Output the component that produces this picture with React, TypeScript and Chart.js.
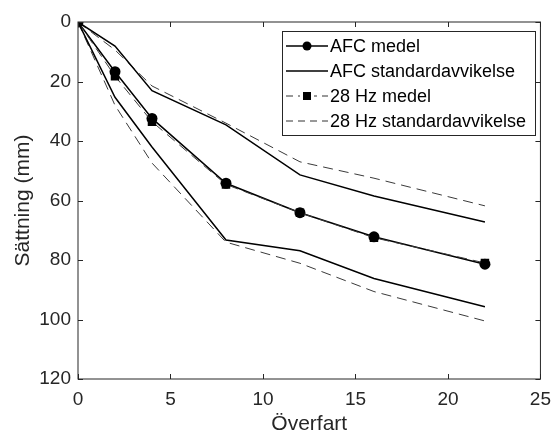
import React, { useEffect, useRef } from "react";
import { Chart, registerables } from "chart.js";

Chart.register(...registerables);

const overfart = [0, 2, 4, 8, 12, 16, 22];
const afcMedel = [0, 16.7, 32.4, 54.2, 64.1, 72.2, 81.4];
const afcStdUpper = [0, 8.1, 23.1, 34.6, 51.4, 58.5, 67.2];
const afcStdLower = [0, 25.3, 42, 73.3, 76.9, 86.2, 95.7];
const hzMedel = [0, 18.2, 33.5, 54.6, 64.1, 72.5, 81];
const hzStdUpper = [0, 9.4, 21.5, 34, 47, 52.5, 61.8];
const hzStdLower = [0, 28, 47.4, 74, 81.1, 90.6, 100.5];

const xTicks = [0, 5, 10, 15, 20, 25];
const yTicks = [0, 20, 40, 60, 80, 100, 120];

const legendLabels = [
  "AFC medel",
  "AFC standardavvikelse",
  "28 Hz medel",
  "28 Hz standardavvikelse",
];

const FONT = "'Liberation Sans', Arial, Helvetica, sans-serif";
const AXIS_COLOR = "#262626";

const toPts = (ys: number[]) => overfart.map((x, i) => ({ x, y: ys[i] }));

const framePlugin = {
  id: "frame",
  afterDraw(chart: any) {
    const { ctx, chartArea, scales } = chart;
    const { left, right, top, bottom } = chartArea;
    ctx.save();
    ctx.strokeStyle = AXIS_COLOR;
    ctx.lineWidth = 1;
    ctx.strokeRect(left, top, right - left, bottom - top);
    const tl = 5;
    ctx.beginPath();
    xTicks.forEach((v) => {
      const px = Math.round(scales.x.getPixelForValue(v)) + 0.5;
      ctx.moveTo(px, bottom);
      ctx.lineTo(px, bottom - tl);
      ctx.moveTo(px, top);
      ctx.lineTo(px, top + tl);
    });
    yTicks.forEach((v) => {
      const py = Math.round(scales.y.getPixelForValue(v)) + 0.5;
      ctx.moveTo(left, py);
      ctx.lineTo(left + tl, py);
      ctx.moveTo(right, py);
      ctx.lineTo(right - tl, py);
    });
    ctx.stroke();
    ctx.restore();
  },
};

const legendPlugin = {
  id: "customLegend",
  afterDraw(chart: any) {
    const { ctx } = chart;
    const bx = 282.5, by = 31.5, bw = 253, bh = 104;
    ctx.save();
    ctx.fillStyle = "#ffffff";
    ctx.fillRect(bx, by, bw, bh);
    ctx.strokeStyle = AXIS_COLOR;
    ctx.lineWidth = 1;
    ctx.strokeRect(bx, by, bw, bh);
    const rowY = [46, 71, 96, 121];
    const x0 = 286, x1 = 328, xm = 307;
    legendLabels.forEach((label, i) => {
      const y = rowY[i];
      const dashed = i >= 2;
      ctx.beginPath();
      ctx.setLineDash(dashed ? [7, 5] : []);
      ctx.strokeStyle = dashed ? "#333333" : "#000000";
      ctx.lineWidth = dashed ? 1 : 1.5;
      ctx.moveTo(x0, y);
      ctx.lineTo(x1, y);
      ctx.stroke();
      ctx.setLineDash([]);
      ctx.fillStyle = "#000000";
      if (i === 0) {
        ctx.beginPath();
        ctx.arc(xm, y, 4.5, 0, Math.PI * 2);
        ctx.fill();
      } else if (i === 2) {
        ctx.fillStyle = "#ffffff";
        ctx.fillRect(xm - 7, y - 3, 14, 6);
        ctx.fillStyle = "#000000";
        ctx.fillRect(xm - 4, y - 4, 8, 8);
      }
      ctx.fillStyle = "#000000";
      ctx.font = `18px ${FONT}`;
      ctx.textBaseline = "middle";
      ctx.textAlign = "left";
      ctx.fillText(label, 330, y + 1);
    });
    ctx.restore();
  },
};

export default function App() {
  const canvasRef = useRef<HTMLCanvasElement | null>(null);

  useEffect(() => {
    const canvas = canvasRef.current;
    if (!canvas) return;
    const solid = {
      borderColor: "#000000",
      backgroundColor: "#000000",
      borderWidth: 1.5,
      pointRadius: 0,
      tension: 0,
      fill: false,
    };
    const dashed = {
      borderColor: "#3a3a3a",
      backgroundColor: "#000000",
      borderWidth: 1,
      borderDash: [10, 6],
      pointRadius: 0,
      tension: 0,
      fill: false,
    };
    const chart = new Chart(canvas, {
      type: "line",
      data: {
        datasets: [
          { ...solid, label: "AFC standardavvikelse", data: toPts(afcStdUpper) },
          { ...solid, label: "AFC standardavvikelse (lower)", data: toPts(afcStdLower) },
          { ...dashed, label: "28 Hz standardavvikelse", data: toPts(hzStdUpper) },
          { ...dashed, label: "28 Hz standardavvikelse (lower)", data: toPts(hzStdLower) },
          {
            ...dashed,
            label: "28 Hz medel",
            data: toPts(hzMedel),
            pointRadius: 6,
            pointStyle: "rect",
            pointBackgroundColor: "#000000",
            pointBorderColor: "#000000",
            pointBorderWidth: 0,
          },
          {
            ...solid,
            label: "AFC medel",
            data: toPts(afcMedel),
            pointRadius: 5.5,
            pointStyle: "circle",
            pointBackgroundColor: "#000000",
            pointBorderColor: "#000000",
            pointBorderWidth: 0,
          },
        ],
      },
      options: {
        animation: false,
        responsive: false,
        maintainAspectRatio: false,
        layout: { padding: { left: 11, right: 13, top: 22, bottom: 0 } },
        plugins: {
          legend: { display: false },
          tooltip: { enabled: false },
        },
        scales: {
          x: {
            type: "linear",
            min: 0,
            max: 25,
            afterBuildTicks: (s: any) => {
              s.ticks = xTicks.map((v) => ({ value: v }));
            },
            afterFit: (s: any) => {
              s.height = 58;
            },
            grid: { display: false, drawTicks: false },
            border: { display: false },
            ticks: {
              color: AXIS_COLOR,
              font: { family: FONT, size: 19 },
              padding: 9,
              maxRotation: 0,
            },
            title: {
              display: true,
              text: "Överfart",
              color: AXIS_COLOR,
              font: { family: FONT, size: 21 },
              padding: { top: 0, bottom: 0 },
            },
          },
          y: {
            type: "linear",
            min: 0,
            max: 120,
            reverse: true,
            afterBuildTicks: (s: any) => {
              s.ticks = yTicks.map((v) => ({ value: v }));
            },
            afterFit: (s: any) => {
              s.width = 67;
            },
            grid: { display: false, drawTicks: false },
            border: { display: false },
            ticks: {
              color: AXIS_COLOR,
              font: { family: FONT, size: 19 },
              padding: 7,
            },
            title: {
              display: true,
              text: "Sättning (mm)",
              color: AXIS_COLOR,
              font: { family: FONT, size: 21 },
              padding: { top: 0, bottom: 0 },
            },
          },
        },
      },
      plugins: [framePlugin, legendPlugin],
    });
    return () => chart.destroy();
  }, []);

  return (
    <div style={{ position: "fixed", left: 0, top: 0, width: 560, height: 437, background: "#fff" }}>
      <canvas ref={canvasRef} width={560} height={437} style={{ display: "block" }} />
    </div>
  );
}
